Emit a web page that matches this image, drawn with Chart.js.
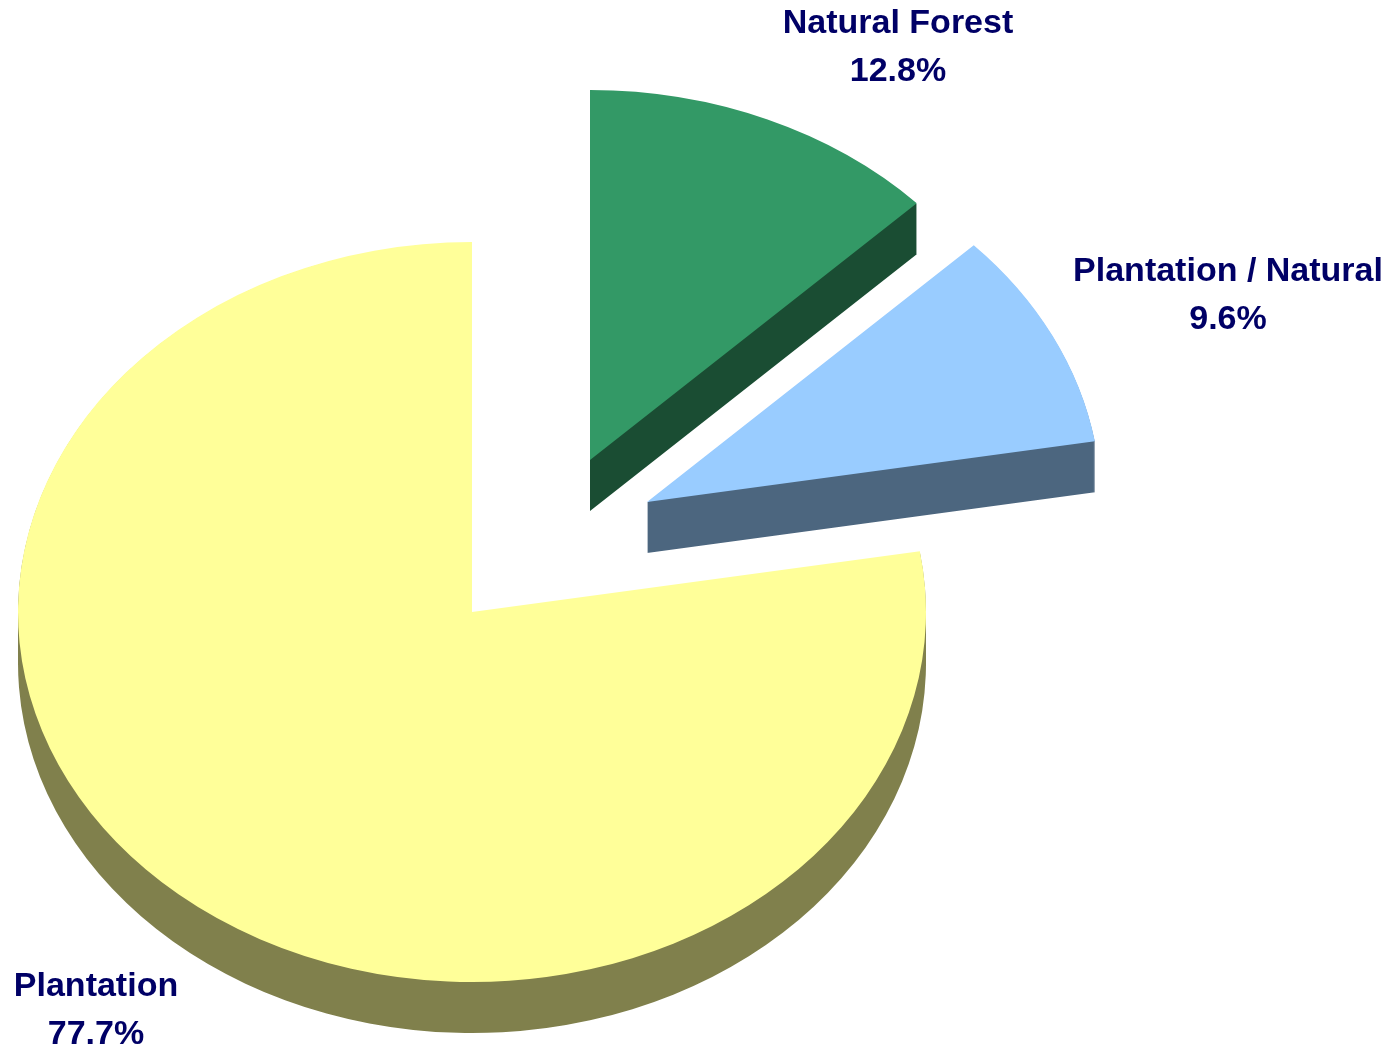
<!DOCTYPE html>
<html>
<head>
<meta charset="utf-8">
<script src="https://cdn.jsdelivr.net/npm/chart.js@4.4.1/dist/chart.umd.min.js"></script>
<style>
  html, body { margin: 0; padding: 0; background: #fff; }
  canvas { display: block; }
</style>
</head>
<body>
<canvas id="pie" width="1397" height="1050"></canvas>
<script>
const categories = ['Natural Forest', 'Plantation / Natural', 'Plantation'];
const shares = [12.8, 9.6, 77.7];

const topColors = ['#339966', '#99CCFF', '#FFFF99'];
const sideColors = ['#1A4D33', '#4C667F', '#80804C'];
// pull-out of each slice, screen px
const explode = [[118, -152], [175, -110], [0, 0]];
// where each two-line label sits (centre x, first baseline)
const labelAnchors = [[898, 33], [1228, 281], [96, 996]];

const TILT = 0.815;  // vertical squash so the pie looks tilted
const DEPTH = 51;    // thickness of the pie

const pie3d = {
  id: 'pie3d',
  beforeDatasetsDraw(chart) {
    const ctx = chart.ctx;
    const arcs = chart.getDatasetMeta(0).data;
    arcs.forEach((el, i) => {
      const [dx, dy] = explode[i];
      const { x, y, startAngle, endAngle, outerRadius } = el;
      // side wall: one path made of the slice shape stacked downwards
      ctx.beginPath();
      for (let d = DEPTH; d > 0; d--) {
        ctx.save();
        ctx.translate(x + dx, y + dy + d);
        ctx.scale(1, TILT);
        ctx.moveTo(0, 0);
        ctx.arc(0, 0, outerRadius, startAngle, endAngle);
        ctx.closePath();
        ctx.restore();
      }
      ctx.fillStyle = sideColors[i];
      ctx.fill('nonzero');
      // top face, drawn by the arc element itself
      ctx.save();
      ctx.translate(x + dx, y + dy);
      ctx.scale(1, TILT);
      ctx.translate(-x, -y);
      el.draw(ctx);
      ctx.restore();
    });
    return false;
  },
  afterDraw(chart) {
    const ctx = chart.ctx;
    ctx.save();
    ctx.fillStyle = '#000066';
    ctx.font = 'bold 34px "Liberation Sans", Arial, sans-serif';
    ctx.textAlign = 'center';
    ctx.textBaseline = 'alphabetic';
    categories.forEach((name, i) => {
      const [lx, ly] = labelAnchors[i];
      ctx.fillText(name, lx, ly);
      ctx.fillText(shares[i].toFixed(1) + '%', lx, ly + 48);
    });
    ctx.restore();
  }
};

new Chart(document.getElementById('pie'), {
  type: 'pie',
  data: {
    labels: categories,
    datasets: [{
      data: shares,
      backgroundColor: topColors,
      borderWidth: 0,
      clip: false
    }]
  },
  options: {
    responsive: false,
    devicePixelRatio: 1,
    animation: false,
    events: [],
    radius: 454,
    rotation: 0,
    layout: { padding: { left: 0, right: 453, top: 174, bottom: 0 } },
    plugins: {
      legend: { display: false },
      tooltip: { enabled: false }
    }
  },
  plugins: [pie3d]
});
</script>
</body>
</html>
